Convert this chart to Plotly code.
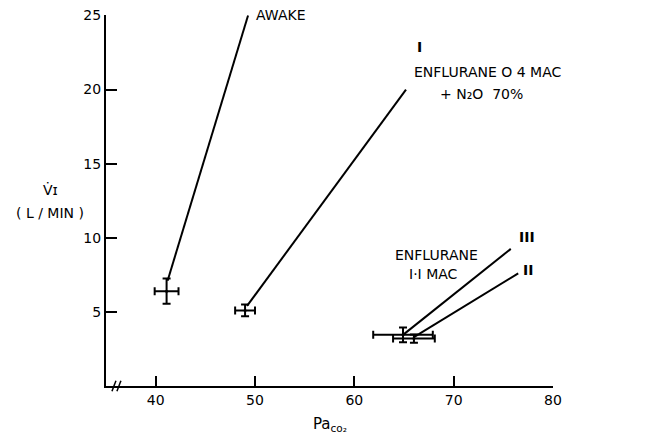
import plotly.graph_objects as go

# ---- data ----
groups = ["AWAKE", "I", "III", "II"]
paco2 = [41.1, 49.0, 64.9, 66.0]
paco2_err = [1.2, 1.0, 3.0, 2.1]
vi = [6.4, 5.1, 3.45, 3.2]
vi_err = [0.85, 0.4, 0.5, 0.28]

line_x_start = [41.2, 49.2, 64.9, 66.0]
line_y_start = [7.1, 5.4, 3.45, 3.3]
line_x_end = [49.3, 65.2, 75.75, 76.5]
line_y_end = [25.0, 20.0, 9.25, 7.6]

x_ticks = [40, 50, 60, 70, 80]
y_ticks = [5, 10, 15, 20, 25]

FONT = "DejaVu Sans"
fig = go.Figure()

for i in range(len(groups)):
    fig.add_trace(go.Scatter(
        x=[line_x_start[i], line_x_end[i]], y=[line_y_start[i], line_y_end[i]],
        mode="lines", line=dict(color="black", width=2), showlegend=False,
        hoverinfo="skip", cliponaxis=False))

fig.add_trace(go.Scatter(
    x=paco2, y=vi, mode="markers",
    marker=dict(color="black", size=3),
    error_x=dict(type="data", array=paco2_err, color="black", thickness=2, width=4),
    error_y=dict(type="data", array=vi_err, color="black", thickness=2, width=4),
    showlegend=False, cliponaxis=False))

tf = dict(family=FONT, size=14, color="black")
ann = [
    dict(x=49.9, y=25.0, text="AWAKE", xanchor="left"),
    dict(x=66.6, y=22.9, text="<b>I</b>", xanchor="center"),
    dict(x=73.4, y=21.2, text="ENFLURANE O 4 MAC", xanchor="center"),
    dict(x=72.8, y=19.7, text="+ N₂O  70%", xanchor="center"),
    dict(x=77.35, y=10.05, text="<b>III</b>", xanchor="center"),
    dict(x=68.3, y=8.83, text="ENFLURANE", xanchor="center"),
    dict(x=68.0, y=7.55, text="I·I MAC", xanchor="center"),
    dict(x=77.45, y=7.82, text="<b>II</b>", xanchor="center"),
    dict(x=82.2, y=5.93, text="ENFLURANE I I MAC", xanchor="center"),
    dict(x=81.7, y=4.58, text="+ N₂O  70%", xanchor="center"),
]
annotations = []
for a in ann:
    a.update(xref="x", yref="y", showarrow=False, yanchor="middle", font=tf)
    annotations.append(a)

annotations.append(dict(xref="paper", yref="paper", x=-0.125, y=0.528, text="V̇ɪ",
                        showarrow=False, font=tf, xanchor="center", yanchor="middle"))
annotations.append(dict(xref="paper", yref="paper", x=-0.125, y=0.466, text="( L / MIN )",
                        showarrow=False, font=tf, xanchor="center", yanchor="middle"))
annotations.append(dict(xref="paper", yref="paper", x=0.501, y=-0.105,
                        text="Pa<sub>co₂</sub>", showarrow=False,
                        font=dict(family=FONT, size=15, color="black"),
                        xanchor="center", yanchor="middle"))

shapes = [
    dict(type="line", xref="x", yref="paper", x0=35.6, x1=36.0, y0=-0.014, y1=0.014,
         line=dict(color="black", width=1.5)),
    dict(type="line", xref="x", yref="paper", x0=36.1, x1=36.5, y0=-0.014, y1=0.014,
         line=dict(color="black", width=1.5)),
]

fig.update_layout(
    width=658, height=440,
    margin=dict(l=98, r=113, t=7, b=62, autoexpand=False),
    paper_bgcolor="white", plot_bgcolor="white",
    annotations=annotations, shapes=shapes,
    font=tf,
)
fig.update_xaxes(range=[35, 80], tickvals=x_ticks, ticks="inside", ticklen=10,
                 tickwidth=2, tickcolor="black", showline=True, linecolor="black",
                 linewidth=2, showgrid=False, zeroline=False, tickfont=tf,
                 ticklabeloverflow="allow", automargin=False)
fig.update_yaxes(range=[0, 25.03], tickvals=y_ticks, ticks="inside", ticklen=11,
                 tickwidth=2, tickcolor="black", showline=True, linecolor="black",
                 linewidth=2, showgrid=False, zeroline=False, tickfont=tf,
                 ticklabeloverflow="allow", automargin=False)

fig.write_html("out.html")
